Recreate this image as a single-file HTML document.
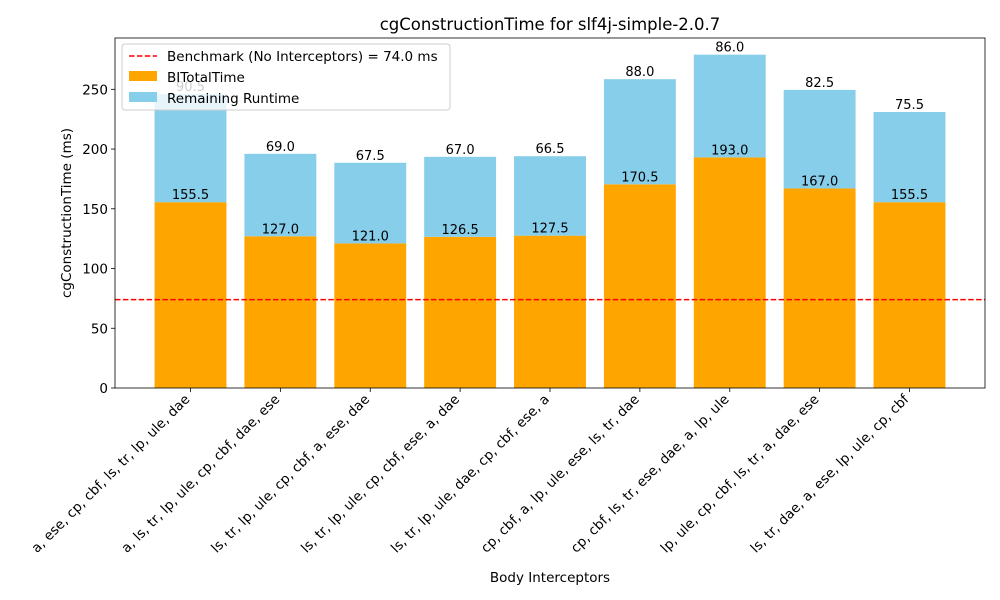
<!DOCTYPE html>
<html><head><meta charset="utf-8">
<style>
html,body{margin:0;padding:0;background:#fff;}
svg{display:block;font-family:"DejaVu Sans","Liberation Sans",sans-serif;}
</style></head>
<body>
<svg id="chart" width="1000" height="600" viewBox="0 0 1000 600"></svg>
<script>
const categories = ["a, ese, cp, cbf, ls, tr, lp, ule, dae","a, ls, tr, lp, ule, cp, cbf, dae, ese","ls, tr, lp, ule, cp, cbf, a, ese, dae","ls, tr, lp, ule, cp, cbf, ese, a, dae","ls, tr, lp, ule, dae, cp, cbf, ese, a","cp, cbf, a, lp, ule, ese, ls, tr, dae","cp, cbf, ls, tr, ese, dae, a, lp, ule","lp, ule, cp, cbf, ls, tr, a, dae, ese","ls, tr, dae, a, ese, lp, ule, cp, cbf"];
const biTotal = [155.5,127.0,121.0,126.5,127.5,170.5,193.0,167.0,155.5];
const remaining = [90.5,69.0,67.5,67.0,66.5,88.0,86.0,82.5,75.5];
const benchmark = 74.0;
const yTicks = [0,50,100,150,200,250];

const svg = document.getElementById('chart');
const NS = 'http://www.w3.org/2000/svg';
const L=115,R=985,T=38,B=388;
const maxTotal = Math.max(...biTotal.map((v,i)=>v+remaining[i]));
const yMax = maxTotal*1.05;
const n = categories.length;
const xMin=-0.84, xMax=n-1+0.84;
const x = i => L + (i-xMin)/(xMax-xMin)*(R-L);
const y = v => B - v/yMax*(B-T);
const bw = 0.8*(R-L)/(xMax-xMin);
function mk(tag, attrs, parent){const e=document.createElementNS(NS,tag);for(const k in attrs)e.setAttribute(k,attrs[k]);(parent||svg).appendChild(e);return e;}

for(let i=0;i<n;i++){
  const b1=mk('rect',{x:x(i)-bw/2,y:y(biTotal[i]),width:bw,height:y(0)-y(biTotal[i]),fill:'#ffa500'});
  
  
  const top=biTotal[i]+remaining[i];
  const b2=mk('rect',{x:x(i)-bw/2,y:y(top),width:bw,height:y(biTotal[i])-y(top),fill:'#87ceeb'});
  
  
  const t1=mk('text',{x:x(i),y:y(biTotal[i])-3,'text-anchor':'middle','font-size':13});
  t1.textContent=biTotal[i].toFixed(1);
  
  
  const t2=mk('text',{x:x(i),y:y(top)-3,'text-anchor':'middle','font-size':13});
  t2.textContent=remaining[i].toFixed(1);
  
  
  mk('line',{x1:x(i),x2:x(i),y1:B,y2:B+4,stroke:'#000','stroke-width':0.8});
  const xl=mk('text',{transform:`translate(${x(i)},${B+12}) rotate(-45)`,'text-anchor':'end','font-size':13.5});
  xl.textContent=categories[i];
  
  
}
const bl=mk('line',{x1:L,x2:R,y1:y(benchmark),y2:y(benchmark),stroke:'#ff0000','stroke-width':1.5,'stroke-dasharray':'5.5,2.4'});


for(const t of yTicks){
  mk('line',{x1:L-4,x2:L,y1:y(t),y2:y(t),stroke:'#000','stroke-width':0.8});
  const tl=mk('text',{x:L-7,y:y(t)+5,'text-anchor':'end','font-size':13.5});
  tl.textContent=t;
  
  
}
const fr=mk('rect',{x:L,y:T,width:R-L,height:B-T,fill:'none',stroke:'#000','stroke-width':0.8});


const title=mk('text',{x:(L+R)/2,y:T-8,'text-anchor':'middle','font-size':16.5});
title.textContent='cgConstructionTime for slf4j-simple-2.0.7';


const xt=mk('text',{x:(L+R)/2,y:582,'text-anchor':'middle','font-size':13.5});
xt.textContent='Body Interceptors';


const yt=mk('text',{transform:`translate(71,${(T+B)/2}) rotate(-90)`,'text-anchor':'middle','font-size':13.5});
yt.textContent='cgConstructionTime (ms)';



const lg=mk('g',{});


mk('rect',{x:122,y:44,width:328,height:66,rx:3,fill:'#fff','fill-opacity':0.8,stroke:'#ccc'},lg);
mk('line',{x1:129,x2:157,y1:56,y2:56,stroke:'#ff0000','stroke-width':1.5,'stroke-dasharray':'5.5,2.4'},lg);
mk('rect',{x:129,y:71,width:28,height:10,fill:'#ffa500'},lg);
mk('rect',{x:129,y:92,width:28,height:10,fill:'#87ceeb'},lg);
const labels=['Benchmark (No Interceptors) = '+benchmark.toFixed(1)+' ms','BITotalTime','Remaining Runtime'];
labels.forEach((s,k)=>{const t=mk('text',{x:167,y:61+k*21,'font-size':13.5},lg);t.textContent=s;
  
  });
</script>
</body></html>
